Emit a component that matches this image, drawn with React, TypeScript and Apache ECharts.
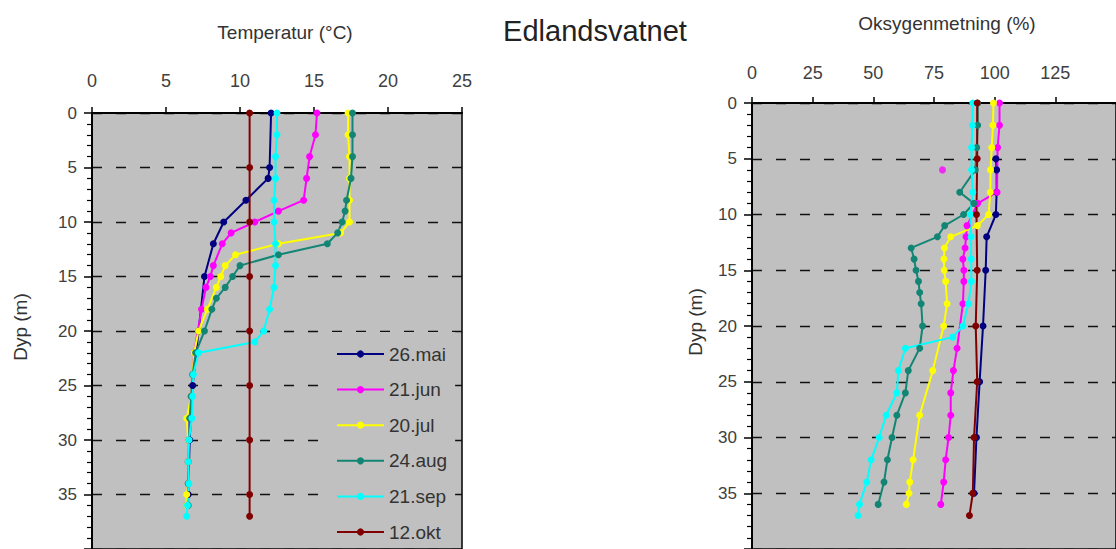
import React, { useEffect, useRef } from "react";
import * as echarts from "echarts";

const FONT = "'Liberation Sans', Arial, sans-serif";

const seriesNames = ["26.mai", "21.jun", "20.jul", "24.aug", "21.sep", "12.okt"];
const seriesColors = ["#000080", "#ff00ff", "#ffff00", "#138574", "#00ffff", "#800000"];

// ---- Temperatur (°C) vs Dyp (m) ----
const temp26maiDepth = [0, 5, 6, 8, 10, 12, 15, 20, 25, 30, 35];
const temp26mai = [12.1, 12.0, 11.9, 10.4, 8.9, 8.2, 7.6, 7.2, 6.8, 6.6, 6.5];

const temp21junDepth = [0, 2, 4, 6, 8, 9, 10, 11, 12, 14, 15, 16, 18, 22, 24, 26, 28, 30, 32, 34, 36];
const temp21jun = [15.2, 15.1, 14.7, 14.5, 14.3, 12.6, 11.0, 9.4, 8.8, 8.2, 8.0, 7.7, 7.4, 6.9, 6.8, 6.7, 6.6, 6.5, 6.5, 6.5, 6.4];

const temp20julDepth = [0, 2, 4, 6, 8, 10, 11, 12, 13, 14, 15, 16, 18, 20, 22, 24, 26, 28, 30, 32, 34, 35, 36];
const temp20jul = [17.3, 17.3, 17.4, 17.4, 17.4, 17.4, 16.8, 12.6, 9.7, 9.0, 8.7, 8.4, 7.8, 7.2, 6.9, 6.8, 6.7, 6.4, 6.5, 6.5, 6.5, 6.4, 6.4];

const temp24augDepth = [0, 2, 4, 6, 8, 9, 10, 11, 12, 13, 14, 15, 16, 17, 18, 20, 22, 24, 26, 28, 30, 32, 34, 36];
const temp24aug = [17.6, 17.6, 17.6, 17.5, 17.2, 17.1, 16.9, 16.6, 15.9, 12.6, 10.0, 9.5, 9.0, 8.4, 8.1, 7.6, 7.0, 6.8, 6.7, 6.6, 6.55, 6.5, 6.5, 6.5];

const temp21sepDepth = [0, 2, 4, 6, 8, 10, 12, 14, 16, 18, 20, 21, 22, 24, 26, 28, 30, 32, 34, 36, 37];
const temp21sep = [12.5, 12.5, 12.4, 12.4, 12.3, 12.3, 12.4, 12.4, 12.3, 12.0, 11.6, 11.0, 7.2, 6.85, 6.8, 6.75, 6.55, 6.5, 6.55, 6.45, 6.4];

const temp12oktDepth = [0, 5, 10, 15, 20, 25, 30, 35, 37];
const temp12okt = [10.65, 10.65, 10.65, 10.65, 10.65, 10.65, 10.65, 10.65, 10.65];

// ---- Oksygenmetning (%) vs Dyp (m) ----
const oxy26maiDepth = [5, 6, 8, 10, 12, 15, 20, 25, 30, 35];
const oxy26mai = [100.5, 100.8, 100.8, 100.5, 96.7, 96.3, 95.2, 93.8, 92.5, 91.5];

const oxy21junDepth = [0, 2, 4, 8, 9, 11, 12, 13, 14, 15, 16, 18, 22, 24, 26, 28, 30, 32, 34, 36];
const oxy21jun = [102, 102, 101.2, 101, 93, 88.6, 88.2, 87.8, 86.9, 87.3, 87.3, 86.9, 84.5, 83.0, 81.9, 81.9, 81.0, 79.8, 79.0, 77.8];
const oxy21junOutlierDepth = [6];
const oxy21junOutlier = [78.5];

const oxy20julDepth = [0, 2, 4, 6, 8, 10, 11, 12, 13, 14, 15, 16, 18, 20, 24, 28, 32, 34, 35, 36];
const oxy20jul = [99.5, 99.3, 98.8, 98.3, 98.2, 97.5, 92.9, 81.9, 79.3, 79.1, 79.2, 79.8, 80.4, 79.0, 74.5, 69.1, 66.4, 65.0, 64.7, 63.6];

const oxy24augDepth = [0, 2, 4, 6, 8, 9, 10, 11, 12, 13, 14, 15, 16, 17, 18, 20, 22, 24, 26, 28, 30, 32, 34, 36];
const oxy24aug = [93, 93, 92.6, 92, 85.6, 91.4, 87.2, 79.4, 76.4, 65.6, 66.8, 67.6, 68.6, 69.1, 69.7, 70.3, 69.1, 64.4, 63.2, 59.7, 57.7, 55.8, 54.4, 52.0];

const oxy21sepDepth = [0, 2, 4, 6, 8, 10, 12, 14, 16, 18, 20, 21, 22, 24, 26, 28, 30, 32, 34, 36, 37];
const oxy21sep = [91, 90.8, 90.5, 90.5, 91, 90, 90.3, 90.3, 90.4, 89.2, 86.9, 82.7, 63.2, 60.3, 59.7, 55.3, 52.4, 49.1, 47.3, 44.3, 43.7];

const oxy12oktDepth = [0, 5, 10, 15, 20, 25, 30, 35, 37];
const oxy12okt = [92.8, 92.8, 92.5, 92.8, 92.2, 92.8, 91.5, 91.0, 89.6];

const tempSets = [
  [temp26maiDepth, temp26mai],
  [temp21junDepth, temp21jun],
  [temp20julDepth, temp20jul],
  [temp24augDepth, temp24aug],
  [temp21sepDepth, temp21sep],
  [temp12oktDepth, temp12okt],
];
const oxySets = [
  [oxy26maiDepth, oxy26mai],
  [oxy21junDepth, oxy21jun],
  [oxy20julDepth, oxy20jul],
  [oxy24augDepth, oxy24aug],
  [oxy21sepDepth, oxy21sep],
  [oxy12oktDepth, oxy12okt],
];

const pairs = (depths: number[], vals: number[]) => depths.map((d, i) => [vals[i], d]);

function xAxisDef(gridIndex: number, max: number, interval: number, margin: number) {
  return {
    gridIndex,
    type: "value",
    position: "top",
    min: 0,
    max,
    interval,
    axisLine: { show: true, onZero: false, lineStyle: { color: "#000", width: 2 } },
    axisTick: { show: true, inside: false, length: 6, lineStyle: { color: "#000", width: 1.5 } },
    axisLabel: { show: true, margin, fontSize: 18, color: "#404040", fontFamily: FONT, showMaxLabel: gridIndex === 0 },
    splitLine: { show: false },
  };
}

function yAxisDef(gridIndex: number) {
  return {
    gridIndex,
    type: "value",
    inverse: true,
    position: "left",
    min: 0,
    max: 40,
    interval: 5,
    axisLine: { show: true, onZero: false, lineStyle: { color: "#000", width: 2 } },
    axisTick: { show: true, inside: false, length: 8, lineStyle: { color: "#000", width: 1.5 } },
    minorTick: { show: true, splitNumber: 5, length: 5, lineStyle: { color: "#000", width: 1.2 } },
    axisLabel: { show: true, margin: 15, fontSize: 17, color: "#404040", fontFamily: FONT, showMaxLabel: false },
    splitLine: { show: true, lineStyle: { color: "#111", type: [10, 14], width: 1.3 } },
  };
}

export default function App() {
  const ref = useRef<HTMLDivElement>(null);
  useEffect(() => {
    if (!ref.current) return;
    const chart = echarts.init(ref.current, undefined, { renderer: "svg" });
    const series: any[] = [];
    tempSets.forEach(([d, v], i) => {
      series.push({
        type: "line",
        name: seriesNames[i],
        xAxisIndex: 0,
        yAxisIndex: 0,
        data: pairs(d as number[], v as number[]),
        symbol: "circle",
        symbolSize: 7,
        color: seriesColors[i],
        lineStyle: { width: 2, color: seriesColors[i] },
        itemStyle: { color: seriesColors[i] },
      });
    });
    oxySets.forEach(([d, v], i) => {
      series.push({
        type: "line",
        name: seriesNames[i],
        xAxisIndex: 1,
        yAxisIndex: 1,
        data: pairs(d as number[], v as number[]),
        symbol: "circle",
        symbolSize: 7,
        color: seriesColors[i],
        lineStyle: { width: 2, color: seriesColors[i] },
        itemStyle: { color: seriesColors[i] },
      });
    });
    series.push({
      type: "scatter",
      name: seriesNames[1],
      xAxisIndex: 1,
      yAxisIndex: 1,
      data: pairs(oxy21junOutlierDepth, oxy21junOutlier),
      symbol: "circle",
      symbolSize: 7,
      itemStyle: { color: seriesColors[1] },
    });

    chart.setOption({
      animation: false,
      textStyle: { fontFamily: FONT },
      grid: [
        { left: 92, top: 113, width: 370, height: 464, show: true, backgroundColor: "#c0c0c0", borderColor: "#000", borderWidth: 1.5 },
        { left: 752, top: 103, width: 419, height: 474, show: true, backgroundColor: "#c0c0c0", borderColor: "#000", borderWidth: 1.5 },
      ],
      xAxis: [xAxisDef(0, 25, 5, 23), xAxisDef(1, 150, 25, 21)],
      yAxis: [yAxisDef(0), yAxisDef(1)],
      legend: {
        orient: "vertical",
        left: 330,
        top: 332,
        padding: [12, 8, 2, 6],
        backgroundColor: "#c0c0c0",
        itemWidth: 47,
        itemHeight: 9,
        itemGap: 15.6,
        data: seriesNames,
        textStyle: { fontSize: 19, color: "#333", lineHeight: 20, fontFamily: FONT },
      },
      graphic: [
        { type: "text", x: 595, y: 31, style: { text: "Edlandsvatnet", textAlign: "center", textVerticalAlign: "middle", fontSize: 29, fill: "#222", fontFamily: FONT } },
        { type: "text", x: 285, y: 32, style: { text: "Temperatur (°C)", textAlign: "center", textVerticalAlign: "middle", fontSize: 19, fill: "#333", fontFamily: FONT } },
        { type: "text", x: 947, y: 23, style: { text: "Oksygenmetning (%)", textAlign: "center", textVerticalAlign: "middle", fontSize: 19, fill: "#333", fontFamily: FONT } },
        { type: "text", x: 20, y: 327, rotation: Math.PI / 2, style: { text: "Dyp (m)", textAlign: "center", textVerticalAlign: "middle", fontSize: 19, fill: "#333", fontFamily: FONT } },
        { type: "text", x: 695, y: 322, rotation: Math.PI / 2, style: { text: "Dyp (m)", textAlign: "center", textVerticalAlign: "middle", fontSize: 19, fill: "#333", fontFamily: FONT } },
      ],
      series,
    });
    return () => chart.dispose();
  }, []);
  return (
    <div
      ref={ref}
      style={{ position: "absolute", left: 0, top: 0, width: 1116, height: 549, background: "#fff", overflow: "hidden" }}
    />
  );
}
